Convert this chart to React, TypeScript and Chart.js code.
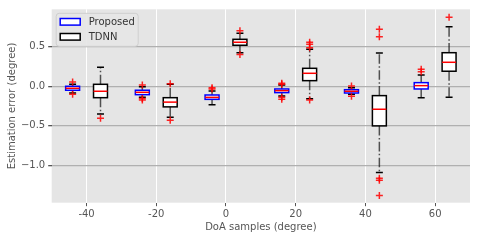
import React, { useEffect, useRef } from "react";
import { Chart, registerables } from "chart.js";

Chart.register(...registerables);

// ---- data ----
const doaSamples = [-40, -20, 0, 20, 40, 60];
const seriesNames = ["Proposed", "TDNN"];
const xTicks = [-40, -20, 0, 20, 40, 60];
const yTicks = [-1.0, -0.5, 0.0, 0.5];

// Proposed (plotted at doa - 4)
const propLow = [-0.085, -0.14, -0.232, -0.122, -0.1, -0.144];
const propQ1 = [-0.05, -0.106, -0.165, -0.08, -0.085, -0.034];
const propMed = [-0.025, -0.076, -0.14, -0.055, -0.063, 0.008];
const propQ3 = [0.0, -0.05, -0.11, -0.034, -0.043, 0.046];
const propHigh = [0.025, -0.005, -0.06, 0.016, -0.018, 0.143];
const propOutliers = [
  [0.055, -0.1],
  [0.016, -0.173, -0.155],
  [-0.02, -0.035],
  [0.038, 0.025, -0.14, -0.165],
  [0.004, -0.126],
  [0.215, 0.185],
];

// TDNN (plotted at doa + 4)
const tdnnLow = [-0.35, -0.39, 0.424, -0.156, -1.09, -0.139];
const tdnnQ1 = [-0.144, -0.26, 0.518, 0.071, -0.5, 0.19];
const tdnnMed = [-0.063, -0.2, 0.556, 0.164, -0.29, 0.303];
const tdnnQ3 = [0.025, -0.144, 0.593, 0.227, -0.118, 0.424];
const tdnnHigh = [0.24, 0.025, 0.67, 0.467, 0.42, 0.753];
const tdnnOutliers = [
  [-0.405],
  [0.033, -0.43],
  [0.7, 0.4],
  [0.556, 0.53, 0.487, -0.173],
  [0.72, 0.626, -1.16, -1.185, -1.38],
  [0.871],
];

const OFFSET = 4;
const BOX_W = 4;
const FONT = "DejaVu Sans";

const propPos = doaSamples.map((d) => d - OFFSET);
const tdnnPos = doaSamples.map((d) => d + OFFSET);

const outlierPoints = (pos: number[], outs: number[][]) =>
  pos.flatMap((p, i) => outs[i].map((v) => ({ x: p, y: v })));

function drawBoxes(
  chart: any,
  pos: number[],
  lo: number[],
  q1: number[],
  med: number[],
  q3: number[],
  hi: number[],
  edge: string
) {
  const { ctx, scales } = chart;
  const x = scales.x;
  const y = scales.y;
  pos.forEach((p, i) => {
    const xl = x.getPixelForValue(p - BOX_W / 2);
    const xr = x.getPixelForValue(p + BOX_W / 2);
    const xc = x.getPixelForValue(p);
    const cl = x.getPixelForValue(p - BOX_W / 4);
    const cr = x.getPixelForValue(p + BOX_W / 4);
    const yLo = y.getPixelForValue(lo[i]);
    const yQ1 = y.getPixelForValue(q1[i]);
    const yMed = y.getPixelForValue(med[i]);
    const yQ3 = y.getPixelForValue(q3[i]);
    const yHi = y.getPixelForValue(hi[i]);
    ctx.save();
    // whiskers
    ctx.strokeStyle = "rgba(0,0,0,0.65)";
    ctx.lineWidth = 1.5;
    ctx.setLineDash([9.6, 2.4, 1.5, 2.4]);
    ctx.beginPath();
    ctx.moveTo(xc, yQ3);
    ctx.lineTo(xc, yHi);
    ctx.moveTo(xc, yQ1);
    ctx.lineTo(xc, yLo);
    ctx.stroke();
    ctx.setLineDash([]);
    // caps
    ctx.strokeStyle = "#000";
    ctx.beginPath();
    ctx.moveTo(cl, yHi);
    ctx.lineTo(cr, yHi);
    ctx.moveTo(cl, yLo);
    ctx.lineTo(cr, yLo);
    ctx.stroke();
    // box
    ctx.fillStyle = "#fff";
    ctx.fillRect(xl, yQ3, xr - xl, yQ1 - yQ3);
    ctx.strokeStyle = edge;
    ctx.lineWidth = 1.5;
    ctx.strokeRect(xl, yQ3, xr - xl, yQ1 - yQ3);
    // median
    ctx.strokeStyle = "#ff0000";
    ctx.lineWidth = 1.5;
    ctx.beginPath();
    ctx.moveTo(xl, yMed);
    ctx.lineTo(xr, yMed);
    ctx.stroke();
    ctx.restore();
  });
}

const boxPlugin = {
  id: "boxPlugin",
  beforeDraw(chart: any) {
    const { ctx, chartArea } = chart;
    ctx.save();
    ctx.fillStyle = "#E5E5E5";
    ctx.fillRect(
      chartArea.left,
      chartArea.top,
      chartArea.right - chartArea.left,
      chartArea.bottom - chartArea.top
    );
    ctx.restore();
  },
  beforeDatasetsDraw(chart: any) {
    drawBoxes(chart, propPos, propLow, propQ1, propMed, propQ3, propHigh, "#0000ff");
    drawBoxes(chart, tdnnPos, tdnnLow, tdnnQ1, tdnnMed, tdnnQ3, tdnnHigh, "#000000");
  },
  afterDraw(chart: any) {
    const { ctx, chartArea } = chart;
    const lx = chartArea.left + 4.5;
    const ly = chartArea.top + 4;
    const w = 82;
    const h = 33;
    ctx.save();
    ctx.fillStyle = "rgba(229,229,229,0.9)";
    ctx.strokeStyle = "#cfcfcf";
    ctx.lineWidth = 1;
    ctx.beginPath();
    (ctx as any).roundRect(lx, ly, w, h, 3);
    ctx.fill();
    ctx.stroke();
    const edges = ["#0000ff", "#000000"];
    seriesNames.forEach((name, i) => {
      const cy = ly + 8.5 + i * 15;
      ctx.fillStyle = "#fff";
      ctx.fillRect(lx + 4, cy - 3.3, 20, 6.6);
      ctx.strokeStyle = edges[i];
      ctx.lineWidth = 1.5;
      ctx.strokeRect(lx + 4, cy - 3.3, 20, 6.6);
      ctx.fillStyle = "#333";
      ctx.font = `10px "${FONT}"`;
      ctx.textBaseline = "middle";
      ctx.textAlign = "left";
      ctx.fillText(name, lx + 32.5, cy + 0.5);
    });
    ctx.restore();
  },
};

export default function App() {
  const ref = useRef<HTMLCanvasElement | null>(null);
  useEffect(() => {
    if (!ref.current) return;
    const chart = new Chart(ref.current, {
      type: "scatter",
      data: {
        datasets: [
          {
            label: seriesNames[0] + " outliers",
            data: outlierPoints(propPos, propOutliers),
            pointStyle: "cross",
            radius: 3.5,
            borderColor: "rgba(255,0,0,0.85)",
            borderWidth: 1.5,
          },
          {
            label: seriesNames[1] + " outliers",
            data: outlierPoints(tdnnPos, tdnnOutliers),
            pointStyle: "cross",
            radius: 3.5,
            borderColor: "rgba(255,0,0,0.85)",
            borderWidth: 1.5,
          },
        ],
      },
      options: {
        responsive: false,
        animation: false,
        events: [],
        layout: { padding: { top: 9.3, right: 10, left: 0, bottom: 0 } },
        plugins: {
          legend: { display: false },
          tooltip: { enabled: false },
        },
        scales: {
          x: {
            type: "linear",
            min: -50,
            max: 70,
            afterBuildTicks: (s: any) => {
              s.ticks = xTicks.map((v) => ({ value: v }));
            },
            afterFit: (s: any) => {
              s.height = 37.3;
            },
            border: { display: false },
            grid: {
              color: "#ffffff",
              lineWidth: 1,
              tickColor: "#555",
              tickLength: 3.5,
            },
            ticks: {
              color: "#555",
              font: { family: FONT, size: 10 },
              padding: 2,
              maxRotation: 0,
              callback: (v: any) => String(v),
            },
            title: {
              display: true,
              text: "DoA samples (degree)",
              color: "#555",
              font: { family: FONT, size: 10 },
              padding: { top: 0, bottom: 7 },
            },
          },
          y: {
            type: "linear",
            min: -1.47,
            max: 0.972,
            afterBuildTicks: (s: any) => {
              s.ticks = yTicks.map((v) => ({ value: v }));
            },
            afterFit: (s: any) => {
              s.width = 51.7;
            },
            border: { display: false },
            grid: {
              color: "#b0b0b0",
              lineWidth: 1.3,
              tickColor: "#555",
              tickLength: 3.5,
            },
            ticks: {
              color: "#555",
              font: { family: FONT, size: 10 },
              padding: 3,
              callback: (v: any) => {
                const s = Number(v).toFixed(1);
                return s.replace("-", "\u2212");
              },
            },
            title: {
              display: true,
              text: "Estimation error (degree)",
              color: "#555",
              font: { family: FONT, size: 10 },
              padding: { top: 6, bottom: 0 },
            },
          },
        },
      },
      plugins: [boxPlugin],
    } as any);
    return () => chart.destroy();
  }, []);
  return (
    <div style={{ position: "absolute", left: 0, top: 0, width: 480, height: 240, background: "#fff" }}>
      <canvas ref={ref} width={480} height={240} />
    </div>
  );
}
